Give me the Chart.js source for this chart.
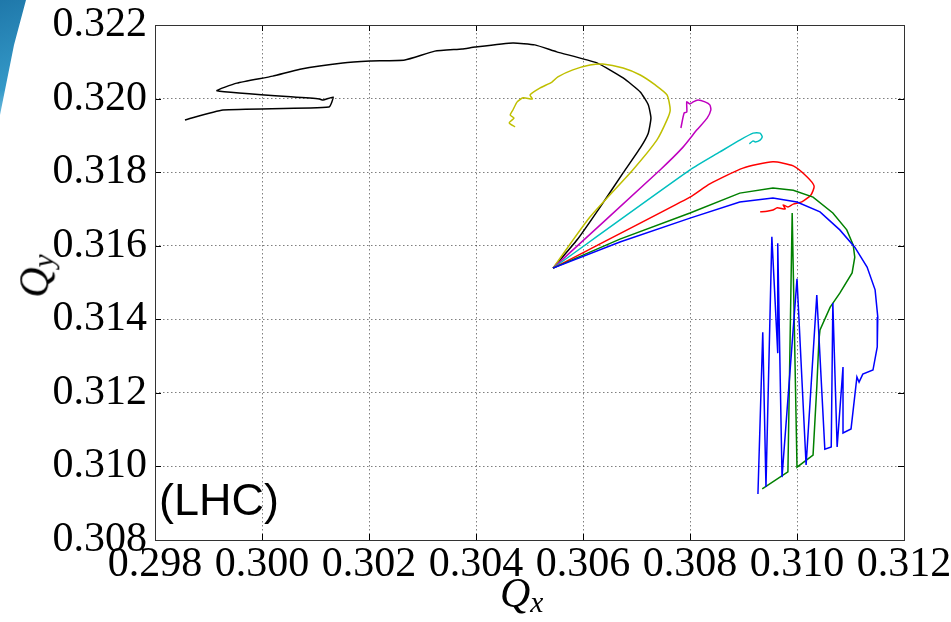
<!DOCTYPE html>
<html>
<head>
<meta charset="utf-8">
<script src="https://cdn.jsdelivr.net/npm/chart.js@4.4.1/dist/chart.umd.min.js"></script>
<style>
  html, body { margin: 0; padding: 0; background: #fff; }
  #wrap { position: relative; width: 951px; height: 622px; overflow: hidden; }
  #ribbon {
    position: absolute; left: 0; top: 0; width: 30px; height: 140px;
    background: linear-gradient(160deg, #1f78aa 0%, #3499c8 60%, #8ccbe8 85%, #e8f4fa 100%);
    clip-path: polygon(0 0, 26px 0, 14px 45px, 0 115px);
    z-index: 0;
  }
  #grafik { position: absolute; left: 0; top: 0; z-index: 1; }
  .lbl { position: absolute; z-index: 2; line-height: 1; white-space: nowrap; color: #000; }
  .math { font-family: "Liberation Serif", "DejaVu Serif", serif; font-style: italic; }
  .math sub { font-size: 0.7em; vertical-align: -5px; }
  #qx { left: 500px; top: 572px; font-size: 42px; }
  #qy { left: 36px; top: 276px; font-size: 42px; transform: translate(-50%, -50%) rotate(-90deg); }
  #tag { left: 159px; top: 477px; font-family: "Liberation Sans", Arial, sans-serif; font-size: 45px; }
</style>
</head>
<body>
<div id="wrap">
  <div id="ribbon"></div>
  <canvas id="grafik" width="951" height="622"></canvas>
  <div class="lbl math" id="qx">Q<sub>x</sub></div>
  <div class="lbl math" id="qy">Q<sub>y</sub></div>
  <div class="lbl" id="tag">(LHC)</div>
</div>
<script>
// tick positions
const xTicks = [0.298, 0.300, 0.302, 0.304, 0.306, 0.308, 0.310, 0.312];
const yTicks = [0.308, 0.310, 0.312, 0.314, 0.316, 0.318, 0.320, 0.322];

// tune footprints, each one starting from the common working point
const blackQx = [0.30544, 0.30589, 0.30632, 0.30675, 0.30707, 0.30722, 0.30727, 0.30722, 0.30707, 0.30675, 0.30626, 0.30551, 0.30510, 0.30469, 0.30398, 0.30374, 0.30323, 0.30267, 0.30202, 0.30151, 0.30071, 0.30020, 0.29953, 0.29916, 0.30107, 0.30114, 0.30133, 0.30125, 0.29927, 0.29856];
const blackQy = [0.31539, 0.31616, 0.31705, 0.31798, 0.31866, 0.31906, 0.31947, 0.31983, 0.32018, 0.32056, 0.32097, 0.32127, 0.32146, 0.32151, 0.32140, 0.32135, 0.32129, 0.32105, 0.32102, 0.32097, 0.32080, 0.32061, 0.32042, 0.32021, 0.31999, 0.31996, 0.32004, 0.31977, 0.31969, 0.31942];

const yellowQx = [0.30544, 0.30613, 0.30693, 0.30738, 0.30757, 0.30763, 0.30757, 0.30735, 0.30707, 0.30675, 0.30637, 0.30613, 0.30581, 0.30553, 0.30542, 0.30520, 0.30501, 0.30505, 0.30488, 0.30477, 0.30469, 0.30464, 0.30471, 0.30462, 0.30473];
const yellowQy = [0.31539, 0.31678, 0.31806, 0.31887, 0.31942, 0.31969, 0.32010, 0.32037, 0.32064, 0.32083, 0.32094, 0.32091, 0.32078, 0.32059, 0.32045, 0.32029, 0.32010, 0.31999, 0.32002, 0.31991, 0.31969, 0.31955, 0.31947, 0.31934, 0.31923];

const magentaQx = [0.30544, 0.30744, 0.30787, 0.30813, 0.30832, 0.30839, 0.30837, 0.30828, 0.30815, 0.30806, 0.30800, 0.30794, 0.30794, 0.30789, 0.30783];
const magentaQy = [0.31539, 0.31806, 0.31868, 0.31915, 0.31947, 0.31969, 0.31983, 0.31991, 0.31996, 0.31991, 0.31985, 0.31991, 0.31963, 0.31961, 0.31920];

const cyanQx = [0.30544, 0.30800, 0.30856, 0.30893, 0.30918, 0.30931, 0.30935, 0.30931, 0.30922, 0.30918, 0.30911];
const cyanQy = [0.31539, 0.31806, 0.31855, 0.31887, 0.31906, 0.31906, 0.31896, 0.31887, 0.31882, 0.31885, 0.31877];

const redQx = [0.30544, 0.30800, 0.30837, 0.30899, 0.30955, 0.30993, 0.31019, 0.31032, 0.31026, 0.31009, 0.30993, 0.30983, 0.30974, 0.30978, 0.30963, 0.30955, 0.30944, 0.30931];
const redQy = [0.31539, 0.31732, 0.31768, 0.31811, 0.31828, 0.31817, 0.31787, 0.31762, 0.31738, 0.31719, 0.31713, 0.31705, 0.31711, 0.31700, 0.31703, 0.31697, 0.31694, 0.31692];

const greenQx = [0.30544, 0.30669, 0.30800, 0.30893, 0.30955, 0.30993, 0.31030, 0.31067, 0.31093, 0.31105, 0.31108, 0.31103, 0.31080, 0.31062, 0.31043, 0.31041, 0.31037, 0.31030, 0.31000, 0.30991, 0.30983, 0.30935];
const greenQy = [0.31539, 0.31618, 0.31689, 0.31743, 0.31757, 0.31751, 0.31732, 0.31689, 0.31643, 0.31602, 0.31569, 0.31526, 0.31471, 0.31433, 0.31371, 0.31344, 0.31216, 0.31031, 0.30998, 0.31689, 0.30985, 0.30939];

const blueQx = [0.30544, 0.30669, 0.30800, 0.30893, 0.30955, 0.31000, 0.31043, 0.31080, 0.31108, 0.31131, 0.31146, 0.31151, 0.31150, 0.31142, 0.31123, 0.31116, 0.31112, 0.31101, 0.31086, 0.31086, 0.31075, 0.31067, 0.31064, 0.31052, 0.31037, 0.31017, 0.31000, 0.30972, 0.30964, 0.30964, 0.30953, 0.30942, 0.30936, 0.30927];
const blueQy = [0.31539, 0.31610, 0.31675, 0.31719, 0.31730, 0.31719, 0.31692, 0.31643, 0.31596, 0.31542, 0.31480, 0.31406, 0.31325, 0.31262, 0.31251, 0.31229, 0.31243, 0.31102, 0.31091, 0.31270, 0.31053, 0.31444, 0.31053, 0.31047, 0.31466, 0.31004, 0.31510, 0.30971, 0.31607, 0.31308, 0.31624, 0.30944, 0.31365, 0.30925];

const toPoints = (xs, ys) => xs.map((x, i) => ({ x: x, y: ys[i] }));

// smooth footprints get a little curve tension, the spiky ones stay straight
const series = [
  { xs: blueQx, ys: blueQy, color: '#0000ff', tension: 0 },
  { xs: greenQx, ys: greenQy, color: '#008000', tension: 0 },
  { xs: redQx, ys: redQy, color: '#ff0000', tension: 0.2 },
  { xs: cyanQx, ys: cyanQy, color: '#00bfbf', tension: 0.2 },
  { xs: magentaQx, ys: magentaQy, color: '#bf00bf', tension: 0.2 },
  { xs: yellowQx, ys: yellowQy, color: '#bfbf00', tension: 0.2 },
  { xs: blackQx, ys: blackQy, color: '#000000', tension: 0.15 },
];

// box around the axes plus inward tick marks on all four sides
const frameTicks = {
  id: 'frameTicks',
  afterDraw(chart) {
    const { ctx, chartArea: a, scales } = chart;
    const len = 6;
    ctx.save();
    ctx.strokeStyle = '#000';
    ctx.lineWidth = 1;
    ctx.beginPath();
    scales.x.ticks.forEach(t => {
      const px = Math.round(scales.x.getPixelForValue(t.value)) + 0.5;
      ctx.moveTo(px, a.bottom); ctx.lineTo(px, a.bottom - len);
      ctx.moveTo(px, a.top); ctx.lineTo(px, a.top + len);
    });
    scales.y.ticks.forEach(t => {
      const py = Math.round(scales.y.getPixelForValue(t.value)) + 0.5;
      ctx.moveTo(a.left, py); ctx.lineTo(a.left + len, py);
      ctx.moveTo(a.right, py); ctx.lineTo(a.right - len, py);
    });
    ctx.stroke();
    ctx.strokeStyle = '#333';
    ctx.strokeRect(Math.round(a.left) + 0.5, Math.round(a.top) + 0.5, Math.round(a.right - a.left), Math.round(a.bottom - a.top));
    ctx.restore();
  }
};

const tickFont = { family: '"Liberation Serif", "DejaVu Serif", serif', size: 42 };
const gridStyle = { color: 'rgba(0,0,0,0.5)', lineWidth: 1, drawTicks: false };

new Chart(document.getElementById('grafik').getContext('2d'), {
  type: 'scatter',
  data: {
    datasets: series.map(s => ({
      data: toPoints(s.xs, s.ys),
      showLine: true,
      borderColor: s.color,
      borderWidth: 1.5,
      pointRadius: 0,
      tension: s.tension,
      fill: false,
    })),
  },
  options: {
    responsive: false,
    animation: false,
    layout: { padding: { top: 25, right: 47, left: 0, bottom: 0 } },
    plugins: { legend: { display: false }, tooltip: { enabled: false } },
    scales: {
      x: {
        type: 'linear',
        min: 0.298,
        max: 0.312,
        afterBuildTicks: s => { s.ticks = xTicks.map(v => ({ value: v })); },
        afterFit: s => { s.height = 82; s.paddingLeft = 0; s.paddingRight = 0; },
        ticks: { font: tickFont, color: '#000', padding: 0, maxRotation: 0, callback: v => v.toFixed(3) },
        grid: gridStyle,
        border: { display: false, dash: [1.5, 2.5] },
      },
      y: {
        type: 'linear',
        min: 0.308,
        max: 0.322,
        afterBuildTicks: s => { s.ticks = yTicks.map(v => ({ value: v })); },
        afterFit: s => { s.width = 155; s.paddingTop = 0; s.paddingBottom = 0; },
        ticks: { font: tickFont, color: '#000', padding: 8, callback: v => v.toFixed(3) },
        grid: gridStyle,
        border: { display: false, dash: [1.5, 2.5] },
      },
    },
  },
  plugins: [frameTicks],
});
</script>
</body>
</html>
